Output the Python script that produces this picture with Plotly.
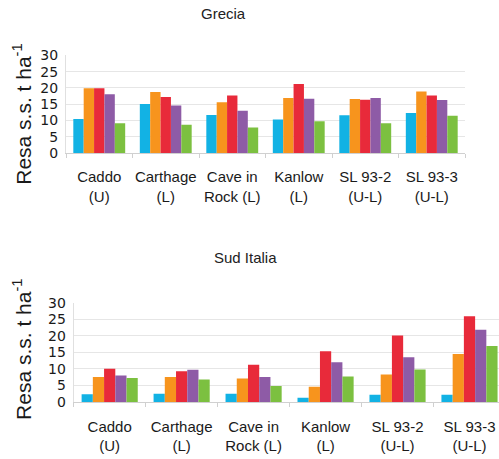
import plotly.graph_objects as go

categories = ["Caddo<br>(U)", "Carthage<br>(L)", "Cave in<br>Rock (L)", "Kanlow<br>(L)", "SL 93-2<br>(U-L)", "SL 93-3<br>(U-L)"]
series_names = ["S1", "S2", "S3", "S4", "S5"]
colors = ["#12B2E4", "#F7941D", "#E82A3A", "#8E5BA6", "#7CC040"]

grecia_s1 = [10.5, 15.1, 11.7, 10.3, 11.6, 12.3]
grecia_s2 = [19.9, 18.8, 15.6, 16.9, 16.6, 18.9]
grecia_s3 = [19.9, 17.2, 17.7, 21.2, 16.4, 17.7]
grecia_s4 = [18.1, 14.6, 13.0, 16.7, 16.9, 16.3]
grecia_s5 = [9.2, 8.7, 7.9, 9.8, 9.2, 11.5]

sud_s1 = [2.3, 2.5, 2.5, 1.3, 2.2, 2.2]
sud_s2 = [7.5, 7.5, 7.1, 4.6, 8.3, 14.5]
sud_s3 = [10.0, 9.3, 11.2, 15.3, 20.1, 25.9]
sud_s4 = [8.0, 9.7, 7.5, 12.0, 13.5, 21.8]
sud_s5 = [7.2, 6.8, 4.8, 7.7, 9.8, 16.9]

y_ticks = [0, 5, 10, 15, 20, 25, 30]

grecia = [grecia_s1, grecia_s2, grecia_s3, grecia_s4, grecia_s5]
sud = [sud_s1, sud_s2, sud_s3, sud_s4, sud_s5]

W, H = 499, 459
fig = go.Figure()
for i, vals in enumerate(grecia):
    fig.add_trace(go.Bar(x=categories, y=vals, name=series_names[i], marker_color=colors[i],
                         marker_line_width=0, xaxis="x", yaxis="y", showlegend=False))
for i, vals in enumerate(sud):
    fig.add_trace(go.Bar(x=categories, y=vals, name=series_names[i], marker_color=colors[i],
                         marker_line_width=0, xaxis="x2", yaxis="y2", showlegend=False))

def px_x(v):
    return v / W

def px_y(v):
    # vertical pixel (from top) -> paper fraction, with a small empirical correction
    v = (v - 8.3) / 0.9645
    return (H - v) / H

xfont = dict(family="Liberation Sans, Arial", size=15, color="#1a1a1a")
yfont = dict(family="DejaVu Sans", size=14, color="#1a1a1a")

common_x = dict(type="category", showgrid=False, showline=True, linecolor="#d0d0d0", linewidth=1,
                ticks="outside", tickson="boundaries", ticklen=4, tickcolor="#d0d0d0",
                tickfont=xfont, tickangle=0)
common_y = dict(range=[0, 30], tickvals=y_ticks, showgrid=True, gridcolor="#e6e6e6", gridwidth=1,
                showline=True, linecolor="#e0e0e0", linewidth=1, zeroline=False,
                tickfont=yfont, ticks="", ticklabelstandoff=4)

fig.update_layout(
    width=W, height=H,
    margin=dict(l=0, r=0, t=0, b=0),
    paper_bgcolor="white", plot_bgcolor="white",
    barmode="group", bargap=0.22, bargroupgap=0,
    xaxis=dict(domain=[px_x(66), px_x(465)], anchor="y", range=[-0.5, 5.5], ticklabelstandoff=10, **common_x),
    yaxis=dict(domain=[px_y(153.3), px_y(55.7)], anchor="x", **common_y),
    xaxis2=dict(domain=[px_x(73.7), 1.0], anchor="y2", range=[-0.5, 5.41], ticklabelstandoff=11, **common_x),
    yaxis2=dict(domain=[px_y(402), px_y(302.7)], anchor="x2", **common_y),
    annotations=[
        dict(text="Grecia", x=px_x(223), y=px_y(14), xref="paper", yref="paper",
             xanchor="center", yanchor="middle",
             showarrow=False, font=dict(family="Liberation Sans, Arial", size=15, color="#222")),
        dict(text="Sud Italia", x=px_x(245), y=px_y(258), xref="paper", yref="paper",
             xanchor="center", yanchor="middle",
             showarrow=False, font=dict(family="Liberation Sans, Arial", size=15, color="#222")),
        dict(text="Resa s.s. t ha<sup>-1</sup>", x=px_x(22), y=px_y(115), xref="paper", yref="paper",
             xanchor="center", yanchor="middle",
             showarrow=False, textangle=-90, font=dict(family="Liberation Sans, Arial", size=21, color="#1a1a1a")),
        dict(text="Resa s.s. t ha<sup>-1</sup>", x=px_x(22), y=px_y(350), xref="paper", yref="paper",
             xanchor="center", yanchor="middle",
             showarrow=False, textangle=-90, font=dict(family="Liberation Sans, Arial", size=21, color="#1a1a1a")),
    ],
)

fig.write_html("out.html", config={"displayModeBar": False},
               post_script="document.documentElement.style.margin='0';document.documentElement.style.padding='0';document.documentElement.style.overflow='hidden';document.body.style.margin='0';document.body.style.padding='0';document.body.style.overflow='hidden';")
